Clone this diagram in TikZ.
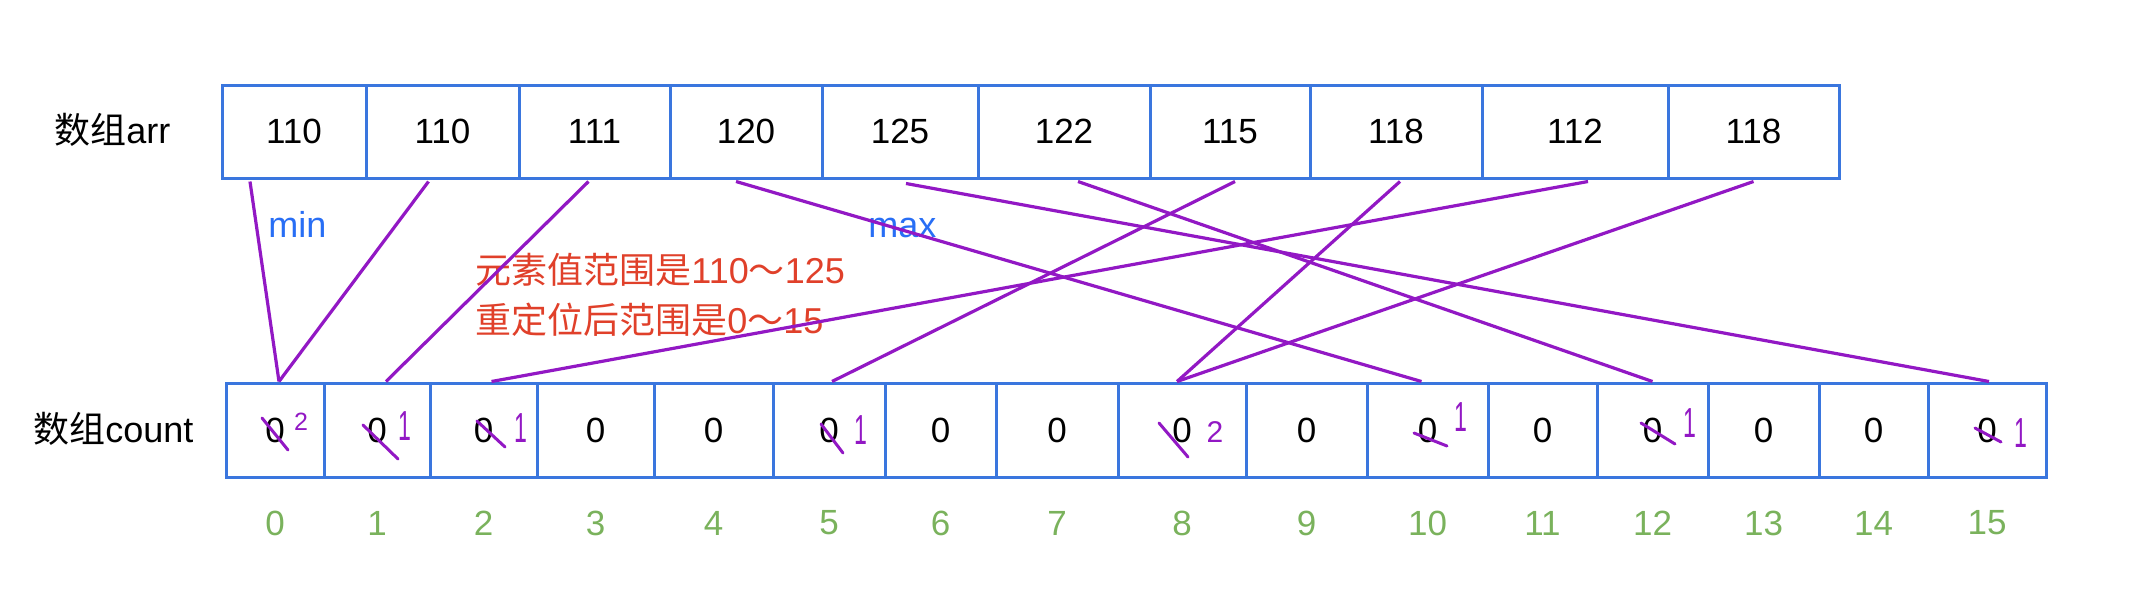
\documentclass[tikz,border=0pt]{standalone}
\usepackage{fontspec}
\usepackage{graphicx}
\setmainfont{Liberation Sans}
\newfontfamily\cjk{Noto Sans CJK SC}
\usetikzlibrary{calc}
\definecolor{boxblue}{RGB}{58,118,222}
\definecolor{linepurple}{RGB}{146,24,196}
\definecolor{idxgreen}{RGB}{122,178,92}
\definecolor{noteblue}{RGB}{40,110,245}
\definecolor{notered}{RGB}{224,64,42}
\newcommand{\thinone}{\scalebox{0.55}[1]{1}}
\begin{document}
\begin{tikzpicture}[x=0.5pt,y=-0.5pt,
  digitfont/.style={font=\fontsize{17.5}{21}\selectfont},
  labelfont/.style={font=\fontsize{18}{22}\selectfont},
  arrcell/.style={draw=boxblue, line width=1.5pt, inner sep=0pt, minimum height=46.5pt, digitfont},
  cntcell/.style={draw=boxblue, line width=1.5pt, inner sep=0pt, minimum height=47pt, digitfont},
  idx/.style={text=idxgreen, inner sep=0pt, digitfont},
  link/.style={draw=linepurple, line width=1.6pt},
  penstroke/.style={draw=linepurple, line width=1.5pt, line cap=round},
  hand/.style={text=linepurple, inner sep=0pt},
  handone/.style={hand, font=\fontsize{21}{24}\selectfont},
  note/.style={labelfont, inner sep=0pt, anchor=base west}]
\useasboundingbox (0,0) rectangle (2130,590);
% array arr
\foreach \l/\r/\v [count=\i] in {222/366/110, 366/519/110, 519/670/111, 670/822/120, 822/978/125, 978/1150/122, 1150/1310/115, 1310/1482/118, 1482/1668/112, 1668/1839/118}
  \node[arrcell, minimum width={(\r-\l)*0.5pt}] (a\i) at ({(\l+\r)/2},131.5) {\v};
% array count
\foreach \l/\r [count=\i from 0] in {226/324, 324/430, 430/537, 537/654, 654/773, 773/885, 885/996, 996/1118, 1118/1246, 1246/1367, 1367/1488, 1488/1597, 1597/1708, 1708/1819, 1819/1928, 1928/2046}
  \node[cntcell, minimum width={(\r-\l)*0.5pt}] (c\i) at ({(\l+\r)/2},430) {0};
\foreach \i in {0,...,15}
  \node[idx] (n\i) at ([yshift=-46.5pt]c\i.center) {\i};
% labels
\node[note, anchor=west] (arrlabel) at (54,130) {{\cjk 数组}arr};
\node[note, anchor=west] (cntlabel) at (33,429) {{\cjk 数组}count};
\node[note, text=noteblue] (minlabel) at (268,237) {min};
\node[note, text=noteblue] (maxlabel) at (868,237) {max};
\node[note, text=notered] (note1) at (475,283) {{\cjk 元素值范围是}110{\cjk ～}125};
\node[note, text=notered] (note2) at (475,333) {{\cjk 重定位后范围是}0{\cjk ～}15};
% connectors
\draw[link] ([xshift=-22pt,yshift=-1pt]a1.south) -- ([xshift=2pt]c0.north);
\draw[link] ([xshift=-7pt,yshift=-1pt]a2.south) -- ([xshift=2pt]c0.north);
\draw[link] ([xshift=-3pt,yshift=-1pt]a3.south) -- ([xshift=4.5pt]c1.north);
\draw[link] ([xshift=-5pt,yshift=-1pt]a4.south) -- ([xshift=-3pt]c10.north);
\draw[link] ([xshift=3pt,yshift=-2pt]a5.south) -- ([xshift=1pt]c15.north);
\draw[link] ([xshift=7pt,yshift=-1pt]a6.south) -- (c12.north);
\draw[link] ([xshift=2.5pt,yshift=-1pt]a7.south) -- ([xshift=1.5pt]c5.north);
\draw[link] ([xshift=2pt,yshift=-1pt]a8.south) -- ([xshift=-2.5pt]c8.north);
\draw[link] ([xshift=6.5pt,yshift=-1pt]a9.south) -- ([xshift=4pt]c2.north);
\draw[link] ([yshift=-1pt]a10.south) -- ([xshift=-2.5pt]c8.north);
% handwritten strike-outs
\foreach \x/\y/\X/\Y in {262/418/288/450, 363/425/398/459, 477/421/505/447, 821/424/843/453, 1159/423/1188/457, 1414/433/1447/446, 1641/423/1675/444, 1975/428/2001/442}
  \draw[penstroke] (\x,\y) -- (\X,\Y);
% handwritten counts
\node[hand, font=\fontsize{12.5}{14}\selectfont] (h0) at (301,422) {2};
\node[handone] (h1) at (405,426.5) {\thinone};
\node[handone] (h2) at (521,428) {\thinone};
\node[handone] (h5) at (861,430) {\thinone};
\node[hand, font=\fontsize{15}{18}\selectfont] (h8) at (1215,432) {2};
\node[handone] (h10) at (1461,417) {\thinone};
\node[handone] (h12) at (1690,423.5) {\thinone};
\node[handone] (h15) at (2021,433) {\thinone};
\end{tikzpicture}
\end{document}
